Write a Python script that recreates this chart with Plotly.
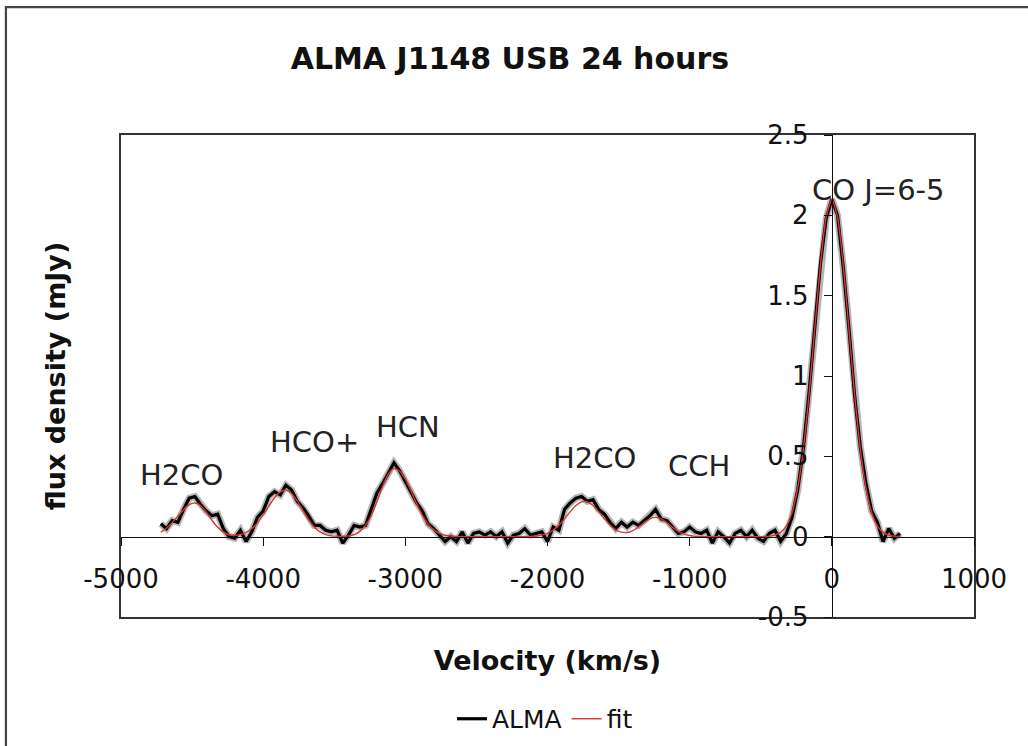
import plotly.graph_objects as go

# ---------------- data ----------------
velocity = [
    -4720, -4680, -4640, -4600, -4560, -4520, -4480, -4440, -4400, -4360,
    -4320, -4280, -4240, -4200, -4160, -4120, -4080, -4040, -4000, -3960,
    -3920, -3880, -3840, -3800, -3760, -3720, -3680, -3640, -3600, -3560,
    -3520, -3480, -3440, -3400, -3360, -3320, -3280, -3240, -3200, -3160,
    -3120, -3080, -3040, -3000, -2960, -2920, -2880, -2840, -2800, -2760,
    -2720, -2680, -2640, -2600, -2560, -2520, -2480, -2440, -2400, -2360,
    -2320, -2280, -2240, -2200, -2160, -2120, -2080, -2040, -2000, -1960,
    -1920, -1880, -1840, -1800, -1760, -1720, -1680, -1640, -1600, -1560,
    -1520, -1480, -1440, -1400, -1360, -1320, -1280, -1240, -1200, -1160,
    -1120, -1080, -1040, -1000, -960, -920, -880, -840, -800, -760,
    -720, -680, -640, -600, -560, -520, -480, -440, -400, -360,
    -320, -280, -240, -200, -160, -120, -80, -40, 0, 40,
    80, 120, 160, 200, 240, 280, 320, 360, 400, 440,
    480,
]

alma_flux = [
    0.08, 0.05, 0.10, 0.09, 0.17, 0.24, 0.25, 0.20, 0.16, 0.13,
    0.14, 0.05, 0.00, -0.01, 0.04, -0.03, 0.03, 0.12, 0.16, 0.25,
    0.28, 0.26, 0.32, 0.29, 0.22, 0.18, 0.13, 0.07, 0.07, 0.04,
    0.03, 0.04, -0.04, 0.01, 0.07, 0.06, 0.07, 0.17, 0.27, 0.33,
    0.40, 0.46, 0.41, 0.34, 0.28, 0.21, 0.16, 0.08, 0.05, 0.01,
    -0.03, 0.00, -0.03, 0.03, -0.04, 0.02, 0.03, 0.01, 0.03, 0.00,
    0.03, -0.04, 0.01, 0.02, 0.05, 0.01, 0.02, 0.03, -0.03, 0.06,
    0.04, 0.17, 0.21, 0.24, 0.25, 0.22, 0.23, 0.17, 0.14, 0.09,
    0.05, 0.09, 0.06, 0.09, 0.07, 0.10, 0.13, 0.17, 0.11, 0.10,
    0.06, 0.02, 0.03, 0.06, 0.03, 0.02, 0.04, -0.04, 0.03, 0.00,
    -0.04, 0.02, 0.04, 0.00, 0.04, -0.01, -0.03, 0.02, 0.04, -0.03,
    0.02, 0.12, 0.29, 0.55, 0.90, 1.28, 1.70, 1.98, 2.10, 2.00,
    1.68, 1.30, 0.88, 0.56, 0.33, 0.16, 0.09, -0.03, 0.05, -0.01,
    0.02,
]

fit_flux = [
    0.028, 0.052, 0.086, 0.127, 0.168, 0.199, 0.210, 0.194, 0.152, 0.102,
    0.058, 0.028, 0.012, 0.009, 0.013, 0.026, 0.050, 0.086, 0.134, 0.190,
    0.242, 0.279, 0.290, 0.269, 0.221, 0.161, 0.104, 0.059, 0.030, 0.013,
    0.005, 0.003, 0.002, 0.005, 0.013, 0.033, 0.070, 0.132, 0.218, 0.312,
    0.390, 0.425, 0.409, 0.358, 0.284, 0.204, 0.133, 0.079, 0.042, 0.021,
    0.009, 0.004, 0.001, 0.000, 0.000, 0.000, 0.000, 0.000, 0.000, 0.000,
    0.000, 0.000, 0.000, 0.000, 0.001, 0.002, 0.004, 0.010, 0.021, 0.041,
    0.071, 0.111, 0.156, 0.194, 0.217, 0.217, 0.194, 0.156, 0.111, 0.071,
    0.043, 0.028, 0.026, 0.037, 0.060, 0.087, 0.111, 0.120, 0.111, 0.087,
    0.058, 0.033, 0.016, 0.007, 0.002, 0.000, 0.000, 0.000, 0.000, 0.000,
    0.000, 0.000, 0.000, 0.000, 0.000, 0.000, 0.001, 0.003, 0.010, 0.027,
    0.067, 0.151, 0.303, 0.548, 0.889, 1.294, 1.693, 1.990, 2.100, 1.990,
    1.693, 1.294, 0.889, 0.548, 0.303, 0.151, 0.067, 0.027, 0.010, 0.003,
    0.001,
]

line_labels = ["H2CO", "HCO+", "HCN", "H2CO", "CCH", "CO J=6-5"]
line_label_x = [-4577, -3641, -2981, -1672, -934, 325]
line_label_y = [0.386, 0.592, 0.685, 0.492, 0.442, 2.160]

x_tick_vals = [-5000, -4000, -3000, -2000, -1000, 0, 1000]
x_tick_text = ["-5000", "-4000", "-3000", "-2000", "-1000", "0", "1000"]
y_tick_vals = [-0.5, 0, 0.5, 1, 1.5, 2, 2.5]
y_tick_text = ["-0.5", "0", "0.5", "1", "1.5", "2", "2.5"]

X_RANGE = [-5000, 1000]
Y_RANGE = [-0.5, 2.5]

FONT = "DejaVu Sans, Verdana, sans-serif"
TXT = "#111111"

fig = go.Figure()

# soft grey halo under the data line (on the frame axes)
fig.add_trace(go.Scatter(
    x=velocity, y=alma_flux, mode="lines", xaxis="x", yaxis="y",
    line=dict(color="rgba(110,110,110,0.5)", width=7),
    showlegend=False, hoverinfo="skip",
))
# data and fit on the zero-crossing axes (same ranges)
fig.add_trace(go.Scatter(
    x=velocity, y=alma_flux, mode="lines", name="ALMA",
    xaxis="x2", yaxis="y2",
    line=dict(color="#000000", width=3.2),
))
fig.add_trace(go.Scatter(
    x=velocity, y=fit_flux, mode="lines", name="fit",
    xaxis="x2", yaxis="y2",
    line=dict(color="#dd3333", width=1.4, shape="spline", smoothing=0.6),
))

for t, lx, ly in zip(line_labels, line_label_x, line_label_y):
    fig.add_annotation(
        x=lx, y=ly, xref="x", yref="y", text=t, showarrow=False,
        xanchor="center", yanchor="middle",
        font=dict(family=FONT, size=29, color="#222222"),
    )

# positions of the zero-crossing axes inside the plot area
x_zero_pos = (0 - Y_RANGE[0]) / (Y_RANGE[1] - Y_RANGE[0])
y_zero_pos = (0 - X_RANGE[0]) / (X_RANGE[1] - X_RANGE[0])

fig.update_layout(
    width=1028, height=746,
    margin=dict(l=121, r=54, t=135, b=129, autoexpand=False),
    paper_bgcolor="white", plot_bgcolor="white",
    showlegend=True,
    title=dict(
        text="<b>ALMA J1148 USB 24 hours</b>",
        x=0.496, xref="container", xanchor="center",
        y=0.922, yref="container", yanchor="middle",
        font=dict(family=FONT, size=30, color=TXT),
    ),
    legend=dict(
        orientation="h", x=0.497, y=-0.2116, xref="paper", yref="paper",
        xanchor="center", yanchor="middle",
        font=dict(family=FONT, size=25, color=TXT),
        bgcolor="rgba(0,0,0,0)", borderwidth=0,
    ),
    # frame axes (plot border + axis titles)
    xaxis=dict(
        range=X_RANGE, showline=True, mirror=True, linecolor="#333333",
        linewidth=2, ticks="", showticklabels=False, showgrid=False,
        zeroline=False,
        title=dict(text="<b>Velocity (km/s)</b>", standoff=33,
                   font=dict(family=FONT, size=27, color=TXT)),
    ),
    yaxis=dict(
        range=Y_RANGE, showline=True, mirror=True, linecolor="#333333",
        linewidth=2, ticks="", showticklabels=False, showgrid=False,
        zeroline=False,
        title=dict(text="<b>flux density (mJy)</b>", standoff=46,
                   font=dict(family=FONT, size=27, color=TXT)),
    ),
    # crossing axes with ticks and labels
    xaxis2=dict(
        range=X_RANGE, overlaying="x", anchor="free", position=x_zero_pos,
        side="bottom", showline=True, linecolor="#111111", linewidth=1.2,
        ticks="outside", ticklen=8, tickwidth=1.2, tickcolor="#111111",
        tickmode="array", tickvals=x_tick_vals, ticktext=x_tick_text,
        ticklabelstandoff=11,
        tickfont=dict(family=FONT, size=26, color=TXT),
        showgrid=False, zeroline=False,
    ),
    yaxis2=dict(
        range=Y_RANGE, overlaying="y", anchor="free", position=y_zero_pos,
        side="left", showline=True, linecolor="#111111", linewidth=1.2,
        ticks="outside", ticklen=8, tickwidth=1.2, tickcolor="#111111",
        tickmode="array", tickvals=y_tick_vals, ticktext=y_tick_text,
        ticklabelstandoff=10,
        tickfont=dict(family=FONT, size=26, color=TXT),
        showgrid=False, zeroline=False,
    ),
    shapes=[
        dict(type="rect", xref="paper", yref="paper",
             x0=-0.1349, x1=1.3, y0=-0.6, y1=1.2655,
             line=dict(color="#444444", width=2.2),
             fillcolor="rgba(0,0,0,0)", layer="below"),
    ],
)

fig.write_html("out.html")
